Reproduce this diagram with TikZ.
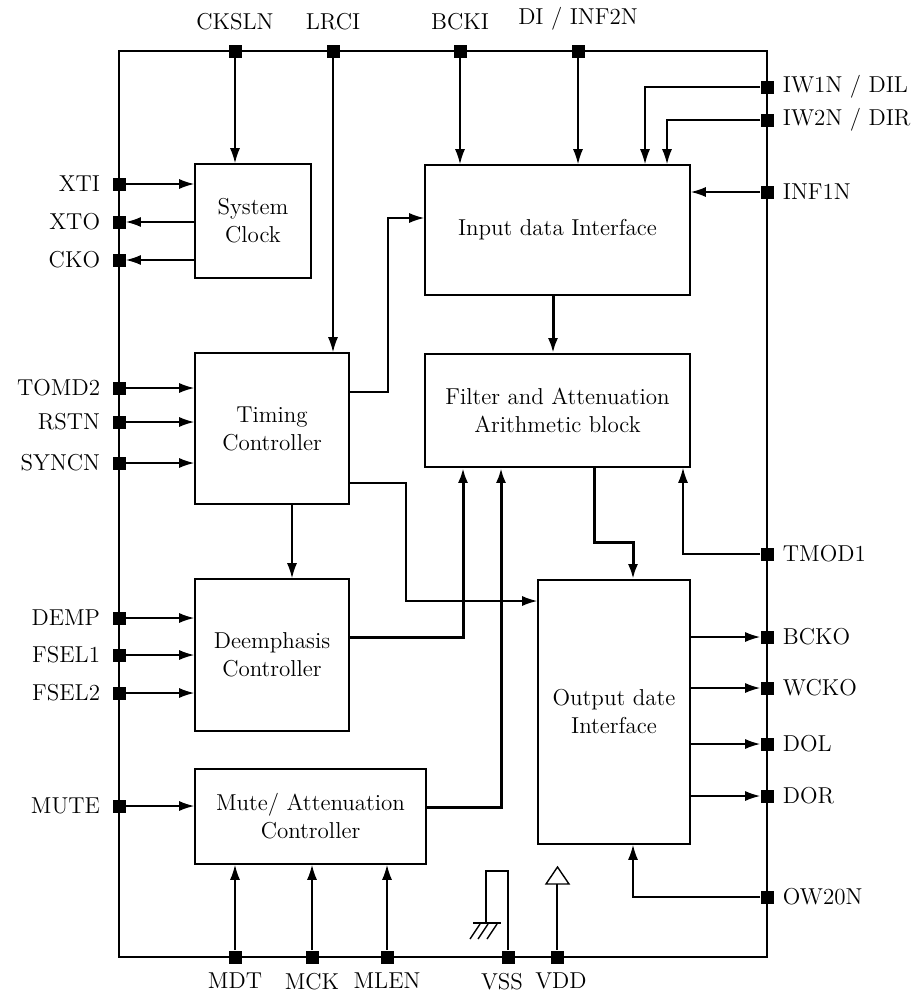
\documentclass[tikz,border=0pt]{standalone}
\usetikzlibrary{arrows.meta}

\tikzset{
  blk/.style={draw, line width=0.85pt, align=center, inner sep=0pt},
  padsq/.style={fill, inner sep=0pt, minimum size=6.5pt},
  padL/.style={padsq, label={[label distance=2.5pt]left:#1}},
  padR/.style={padsq, label={[label distance=1pt]right:#1}},
  padT/.style={padsq, label={[label distance=3.5pt]above:#1}},
  padB/.style={padsq, label={[label distance=1pt]below:#1}},
  wire/.style={line width=0.7pt},
  sig/.style={wire, -{Latex[length=7.5pt,width=5pt]}},
  bus/.style={line width=1.5pt, -{Latex[length=7.5pt,width=5pt]}}
}

\begin{document}
\begin{tikzpicture}[x=0.5pt, y=-0.5pt, font=\fontsize{11.5}{14}\selectfont]
  \useasboundingbox (0,0) rectangle (912,996);

  % Chip outline
  \draw[wire] (119,51) rectangle (767,957);

  % Blocks
  \node[blk, minimum width=58pt, minimum height=57pt] (sysclk) at (253,221) {System\\Clock};
  \node[blk, minimum width=132.5pt, minimum height=65pt] (inif) at (557.5,230) {Input data Interface};
  \node[blk, minimum width=132.5pt, minimum height=56.5pt] (filt) at (557.5,410.5) {Filter and Attenuation\\Arithmetic block};
  \node[blk, minimum width=77pt, minimum height=75.5pt] (timing) at (272,428.5) {Timing\\Controller};
  \node[blk, minimum width=77pt, minimum height=76pt] (deemph) at (272,655) {Deemphasis\\Controller};
  \node[blk, minimum width=115.5pt, minimum height=47.5pt] (mute) at (310.5,816.5) {Mute/ Attenuation\\Controller};
  \node[blk, minimum width=76pt, minimum height=132pt] (outif) at (614,712) {Output date\\Interface};

  % Pins, top
  \node[padT=CKSLN] (p-cksln) at (235,51) {};
  \node[padT=LRCI] (p-lrci) at (333,51) {};
  \node[padT=BCKI] (p-bcki) at (460,51) {};
  \node[padT={DI / INF2N}] (p-di) at (578,51) {};
  % Pins, left
  \node[padL=XTI] (p-xti) at (119,184) {};
  \node[padL=XTO] (p-xto) at (119,222) {};
  \node[padL=CKO] (p-cko) at (119,260) {};
  \node[padL=TOMD2] (p-tomd2) at (119,388) {};
  \node[padL=RSTN] (p-rstn) at (119,422) {};
  \node[padL=SYNCN] (p-syncn) at (119,463) {};
  \node[padL=DEMP] (p-demp) at (119,618) {};
  \node[padL=FSEL1] (p-fsel1) at (119,655) {};
  \node[padL=FSEL2] (p-fsel2) at (119,693) {};
  \node[padL=MUTE] (p-mute) at (119,806) {};
  % Pins, right
  \node[padR={IW1N / DIL}] (p-iw1n) at (767,87) {};
  \node[padR={IW2N / DIR}] (p-iw2n) at (767,120) {};
  \node[padR=INF1N] (p-inf1n) at (767,192) {};
  \node[padR=TMOD1] (p-tmod1) at (767,554) {};
  \node[padR=BCKO] (p-bcko) at (767,637) {};
  \node[padR=WCKO] (p-wcko) at (767,688) {};
  \node[padR=DOL] (p-dol) at (767,744) {};
  \node[padR=DOR] (p-dor) at (767,796) {};
  \node[padR=OW20N] (p-ow20n) at (767,897) {};
  % Pins, bottom
  \node[padB=MDT] (p-mdt) at (235,957) {};
  \node[padB=MCK] (p-mck) at (312,957) {};
  \node[padB=MLEN] (p-mlen) at (387,957) {};
  \node[padsq, label={[label distance=1pt, xshift=-3pt]below:VSS}] (p-vss) at (508,957) {};
  \node[padsq, label={[label distance=1pt, xshift=2pt]below:VDD}] (p-vdd) at (557,957) {};

  % Inputs from the top
  \draw[sig] (p-cksln) -- (p-cksln |- sysclk.north);
  \draw[sig] (p-lrci) -- (p-lrci |- timing.north);
  \draw[sig] (p-bcki) -- (p-bcki |- inif.north);
  \draw[sig] (p-di) -- (p-di |- inif.north);

  % Left side
  \draw[sig] (p-xti) -- (p-xti -| sysclk.west);
  \draw[sig] (p-xto -| sysclk.west) -- (p-xto);
  \draw[sig] (p-cko -| sysclk.west) -- (p-cko);
  \draw[sig] (p-tomd2) -- (p-tomd2 -| timing.west);
  \draw[sig] (p-rstn) -- (p-rstn -| timing.west);
  \draw[sig] (p-syncn) -- (p-syncn -| timing.west);
  \draw[sig] (p-demp) -- (p-demp -| deemph.west);
  \draw[sig] (p-fsel1) -- (p-fsel1 -| deemph.west);
  \draw[sig] (p-fsel2) -- (p-fsel2 -| deemph.west);
  \draw[sig] (p-mute) -- (p-mute -| mute.west);

  % Right side
  \draw[sig] (p-iw1n) -| ([xshift=43.75pt]inif.north);
  \draw[sig] (p-iw2n) -| ([xshift=54.75pt]inif.north);
  \draw[sig] (p-inf1n) -- (p-inf1n -| inif.east);
  \draw[sig] (p-tmod1) -| ([xshift=62.75pt]filt.south);
  \draw[sig] (p-bcko -| outif.east) -- (p-bcko);
  \draw[sig] (p-wcko -| outif.east) -- (p-wcko);
  \draw[sig] (p-dol -| outif.east) -- (p-dol);
  \draw[sig] (p-dor -| outif.east) -- (p-dor);
  \draw[sig] (p-ow20n) -| ([xshift=9.5pt]outif.south);

  % Bottom
  \draw[sig] (p-mdt) -- (p-mdt |- mute.south);
  \draw[sig] (p-mck) -- (p-mck |- mute.south);
  \draw[sig] (p-mlen) -- (p-mlen |- mute.south);

  % Between blocks
  \draw[sig] ([yshift=18.25pt]timing.east) -- ++(38,0) |- ([yshift=6pt]inif.west);
  \draw[sig] ([yshift=-27.25pt]timing.east) -- ++(56,0) |- ([yshift=55.5pt]outif.west);
  \draw[sig] ([xshift=10pt]timing.south) -- ([xshift=10pt]deemph.north);
  \draw[bus] ([xshift=-2.25pt]inif.south) -- ([xshift=-2.25pt]filt.north);
  \draw[bus] ([yshift=9pt]deemph.east) -| ([xshift=-47.25pt]filt.south);
  \draw[bus] ([yshift=4.75pt]mute.east) -| ([xshift=-28.25pt]filt.south);
  \draw[bus] ([xshift=18.25pt]filt.south) -- ++(0,75) -| ([xshift=9.5pt]outif.north);

  % Supply: ground and VDD
  \coordinate (gtop) at (486,871);
  \coordinate (gnd) at (486,923);
  \draw[wire] (p-vss) |- (gtop) -- (gnd);
  \draw[wire] ([xshift=-6.5pt]gnd) -- ([xshift=7.5pt]gnd);
  \foreach \sx in {480,488,497}
    \draw[wire] (\sx,924) -- ++(-10,15);
  \coordinate (vddtip) at (557,884);
  \draw[wire] (p-vdd) -- (vddtip);
  \draw[wire] (546,884) -- (569,884) -- (557.5,867) -- cycle;
\end{tikzpicture}
\end{document}
